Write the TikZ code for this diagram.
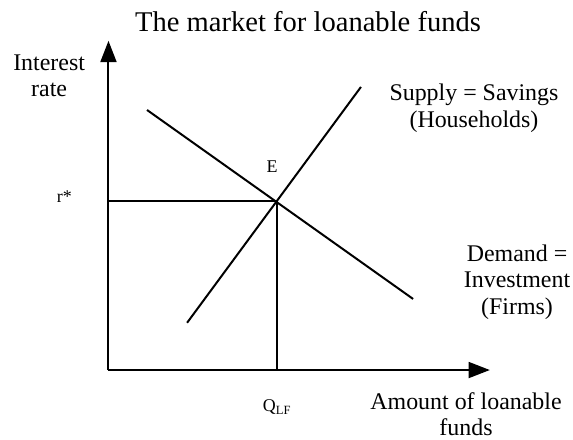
\documentclass[tikz,border=0pt]{standalone}
\usepackage{fontspec}
\setmainfont{Liberation Serif}
\usetikzlibrary{arrows.meta}
\begin{document}
\begin{tikzpicture}[>={Triangle[length=16pt,width=12pt]}, line width=1.5pt,
    lbl/.style={font=\fontsize{18}{20}\selectfont, align=center, inner sep=1pt},
    small/.style={font=\fontsize{13.5}{15}\selectfont}]
    \useasboundingbox (0, 0) rectangle (15.16, 11.64);

    % Achsen
    \coordinate (O) at (2.87, 1.85);
    \coordinate (ytip) at (2.87, 10.56);
    \coordinate (xtip) at (12.96, 1.85);
    \draw[->] (O) -- (ytip);
    \draw[->] (O) -- (xtip);

    % Gleichgewicht
    \coordinate (E) at (7.33, 6.32);
    \draw (E -| O) -- (E) -- (E |- O);

    % Angebot und Nachfrage
    \coordinate (s1) at (4.95, 3.10);
    \coordinate (s2) at (9.55, 9.34);
    \coordinate (d1) at (3.89, 8.73);
    \coordinate (d2) at (10.93, 3.73);
    \draw (s1) -- (s2);
    \draw (d1) -- (d2);

    % Beschriftungen
    \node[font=\fontsize{21.5}{24}\selectfont] (title) at (8.15, 11.06) {The market for loanable funds};
    \node[lbl] (ylab) at (1.30, 9.63) {Interest\\rate};
    \node[lbl] (xlab) at (12.33, 0.68) {Amount of loanable\\funds};
    \node[lbl] (slab) at (12.54, 8.78) {Supply = Savings\\(Households)};
    \node[lbl] (dlab) at (13.68, 4.18) {Demand =\\Investment\\(Firms)};
    \node[small] (elab) at (7.20, 7.22) {E};
    \node[small] (rlab) at (1.70, 6.45) {r*};
    \node[small] (qlab) at (7.33, 0.87) {Q\textsubscript{LF}};
\end{tikzpicture}
\end{document}
